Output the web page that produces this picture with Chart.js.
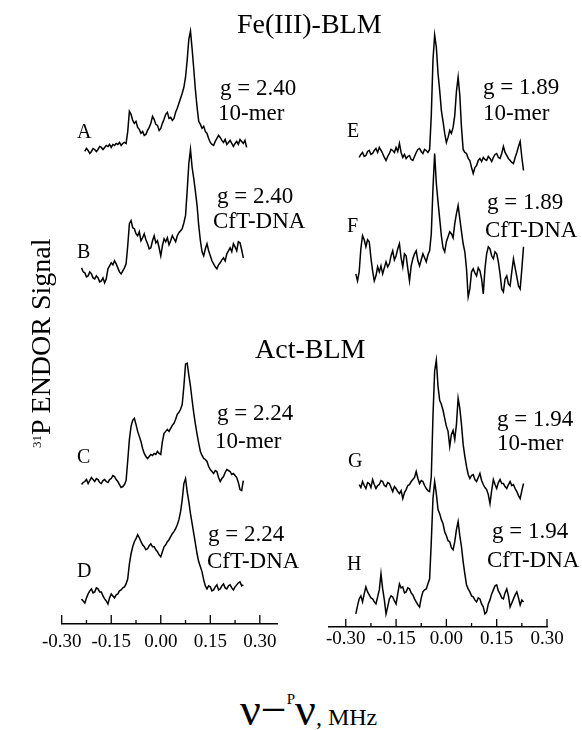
<!DOCTYPE html>
<html>
<head>
<meta charset="utf-8">
<script src="https://cdn.jsdelivr.net/npm/chart.js@4.4.0/dist/chart.umd.min.js"></script>
<style>
  body { margin: 0; background: #fff; }
  #fig { position: relative; width: 582px; height: 730px; overflow: hidden;
         font-family: "Liberation Serif", "Times New Roman", serif; color: #000; }
  .cw { position: absolute; top: 0; }
  .t { position: absolute; white-space: nowrap; line-height: 1; }
</style>
</head>
<body>
<div id="fig">
  <div class="cw" style="left:0;"><canvas id="leftChart" width="300" height="680"></canvas></div>
  <div class="cw" style="left:300px;"><canvas id="rightChart" width="282" height="680"></canvas></div>
</div>
<script>
/* ── Data: 31P ENDOR traces, signal sampled every 0.005 MHz ──────── */
const STEP_MHZ = 0.005;

const MAJOR_TICKS = [-0.30, -0.15, 0.00, 0.15, 0.30];
const MINOR_TICKS = [-0.225, -0.075, 0.075, 0.225];

// Fe(III)-BLM, g = 2.40, 10-mer
const A_START = -0.23;
const A_SIGNAL = [-6, -3, -5, -8, -6, -3, -4, -6, -4, -1,
                  -2, -4, -2, 0, -1, 1, -2, 1, 0, 2,
                  1, 3, 0, 2, 3, 2, 14, 34, 31, 25,
                  22, 24, 18, 16, 12, 14, 10, 11, 15, 18,
                  22, 29, 26, 21, 20, 15, 17, 22, 26, 31,
                  33, 27, 28, 25, 27, 33, 37, 42, 47, 52,
                  58, 68, 85, 106, 114, 96, 76, 55, 38, 24,
                  21, 17, 19, 14, 12, 7, 3, 1, 0, 4,
                  7, 10, 8, 5, 3, 6, 1, 3, 5, 2,
                  -1, 2, 4, 1, 6, 4, 2, 5, -2];
// Fe(III)-BLM, g = 2.40, CfT-DNA
const B_START = -0.24;
const B_SIGNAL = [8, 4, 3, -1, 0, 4, 2, -2, -3, 0,
                  -2, -6, -5, -2, -7, -3, 7, 10, 13, 11,
                  15, 12, 8, 4, 2, 5, 8, 12, 30, 52,
                  55, 48, 47, 42, 40, 44, 35, 38, 42, 36,
                  32, 27, 28, 35, 40, 33, 35, 28, 20, 30,
                  37, 34, 38, 31, 35, 40, 37, 34, 40, 43,
                  45, 47, 53, 60, 85, 112, 126, 108, 97, 84,
                  70, 50, 35, 24, 20, 27, 32, 25, 20, 15,
                  12, 9, 7, 11, 13, 16, 18, 15, 22, 25,
                  28, 24, 32, 29, 25, 34, 33, 26, 18];

// Act-BLM, g = 2.24, 10-mer
const C_START = -0.24;
const C_SIGNAL = [2, 4, 5, 7, 3, 6, 9, 7, 5, 8,
                  7, 4, 3, 6, 7, 5, 4, 7, 8, 11,
                  10, 7, 5, 2, -1, 0, 2, 6, 26, 47,
                  60, 66, 68, 62, 55, 50, 45, 38, 33, 30,
                  28, 30, 32, 31, 33, 32, 35, 33, 32, 45,
                  53, 55, 57, 55, 58, 61, 63, 67, 72, 74,
                  77, 82, 100, 122, 123, 111, 100, 86, 73, 62,
                  52, 43, 35, 31, 28, 27, 25, 20, 17, 15,
                  13, 16, 15, 9, 5, 8, 10, 14, 17, 16,
                  15, 12, 13, 11, 9, 4, -3, -4, 6];
// Act-BLM, g = 2.24, CfT-DNA
const D_START = -0.24;
const D_SIGNAL = [3, 1, -1, 4, 8, 11, 13, 9, 10, 14,
                  13, 10, 10, 6, 3, 1, -2, 4, 8, 6,
                  4, 7, 8, 11, 12, 14, 15, 18, 23, 38,
                  48, 55, 60, 63, 67, 64, 60, 57, 55, 52,
                  53, 56, 58, 55, 55, 52, 50, 47, 45, 50,
                  55, 57, 60, 62, 65, 68, 70, 73, 77, 82,
                  90, 102, 118, 123, 110, 100, 88, 78, 68, 58,
                  48, 40, 35, 30, 22, 16, 13, 16, 15, 11,
                  12, 15, 17, 12, 13, 16, 18, 14, 13, 16,
                  17, 14, 12, 15, 17, 19, 20, 16, 17];

// Fe(III)-BLM, g = 1.89, 10-mer
const E_START = -0.26;
const E_SIGNAL = [-2, 1, 3, -1, 0, 4, 5, 1, 2, 5,
                  7, 3, 8, 5, 2, -2, -5, -1, 2, 6,
                  5, 3, 8, 4, 12, 3, -2, 1, -3, -1,
                  0, -4, -5, -1, 3, 6, 7, 4, 2, 6,
                  5, 3, 6, 40, 95, 120, 108, 82, 65, 45,
                  34, 22, 13, 18, 25, 22, 28, 40, 64, 78,
                  60, 28, 6, 3, 2, -3, -5, -12, -18, -12,
                  -10, -5, -3, -6, -2, -4, -5, -1, -3, -6,
                  -2, 1, 2, -2, -3, 2, 9, 3, 0, -3,
                  -5, -7, -8, -2, 3, 9, 14, -2, -15];
// Fe(III)-BLM, g = 1.89, CfT-DNA
const F_START = -0.27;
const F_SIGNAL = [-10, -17, -8, 15, 28, 24, 17, 24, 22, 6,
                  -7, -17, -12, -3, -8, -2, -10, -4, 2, -3,
                  0, 8, 13, 4, 8, 15, 20, 6, -3, 10,
                  8, -5, -17, -2, 5, 10, 13, 3, -2, 4,
                  10, 6, 2, 9, 13, 30, 75, 110, 80, 62,
                  45, 28, 16, 12, 22, 27, 32, 30, 26, 40,
                  50, 58, 45, 32, 20, 12, -5, -33, -25, -8,
                  -5, -9, -12, -4, -7, -15, -30, -5, 10, 17,
                  15, 8, 5, 12, 10, 2, -10, -25, -28, -15,
                  -12, -20, -22, -8, 5, -4, -13, -22, -25, -5, 17];

// Act-BLM, g = 1.94, 10-mer
const G_START = -0.26;
const G_SIGNAL = [2, -1, 5, 1, -2, 4, 3, -1, 7, 2,
                  -2, 1, 2, 6, 5, 1, 0, 4, 3, -1,
                  -5, 0, -2, -5, -7, -4, -12, -6, -3, 1,
                  2, 5, 7, 9, 15, 8, 3, 6, 5, 1,
                  -2, -4, -5, 10, 70, 115, 126, 100, 86, 82,
                  76, 68, 60, 55, 40, 52, 56, 47, 62, 88,
                  78, 62, 42, 30, 20, 12, 8, 11, 12, 7,
                  5, 9, 13, 6, 2, -1, -3, -8, -17, -4,
                  7, 2, -2, 4, 7, 3, 3, 0, -2, 2,
                  5, 1, 2, -2, -5, -9, -12, -4, 3];
// Act-BLM, g = 1.94, CfT-DNA
const H_START = -0.27;
const H_SIGNAL = [-12, -4, 3, 6, 0, 8, 15, 10, 7, 4,
                  3, 0, -2, 5, 12, 28, 13, 2, -12, -5,
                  3, 6, 5, 1, -2, 8, 18, 14, 15, 9,
                  10, 14, 13, 9, 7, 3, 0, -3, -5, 4,
                  10, 12, 13, 18, 23, 60, 103, 120, 108, 92,
                  88, 82, 78, 70, 66, 61, 60, 54, 52, 60,
                  72, 80, 66, 55, 40, 28, 17, 13, 10, 6,
                  5, 2, 0, 4, 3, -2, -5, -12, -10, -2,
                  2, 8, 12, 16, 17, 11, 8, 4, 3, 9,
                  13, 6, -5, -1, 3, 7, 10, 4, -3, 2, 0];

// ── Layout: vertical offset of each trace above its x axis ─────────
const LEFT_TRACES  = [[A_START, A_SIGNAL, 477], [B_START, B_SIGNAL, 347],
                      [C_START, C_SIGNAL, 137], [D_START, D_SIGNAL, 22]];
const RIGHT_TRACES = [[E_START, E_SIGNAL, 470], [F_START, F_SIGNAL, 362],
                      [G_START, G_SIGNAL, 140], [H_START, H_SIGNAL, 25]];

const SERIF = '"Liberation Serif", "Times New Roman", serif';

// ── Upward tick marks on the frequency axis ───────────────────────
const tickMarks = {
    id: "tickMarks",
    afterDraw(chart, args, opts) {
        const { ctx, chartArea } = chart;
        const sx = chart.scales.x;
        ctx.save();
        ctx.strokeStyle = "#000";
        ctx.lineWidth = 1.3;
        ctx.beginPath();
        MAJOR_TICKS.forEach(v => {
            const px = sx.getPixelForValue(v);
            ctx.moveTo(px, chartArea.bottom);
            ctx.lineTo(px, chartArea.bottom - opts.major);
        });
        MINOR_TICKS.forEach(v => {
            const px = sx.getPixelForValue(v);
            ctx.moveTo(px, chartArea.bottom);
            ctx.lineTo(px, chartArea.bottom - opts.minor);
        });
        ctx.stroke();
        ctx.restore();
    }
};

function makeChart(canvasId, traces, cfg) {
    const datasets = traces.map(([start, signal, offset]) => ({
        data: signal.map((s, i) => ({ x: +(start + i * STEP_MHZ).toFixed(3), y: s + offset })),
        borderColor: "#000",
        borderWidth: 1.5,
        pointRadius: 0,
        fill: false,
        tension: 0
    }));

    return new Chart(document.getElementById(canvasId), {
        type: "line",
        data: { datasets },
        plugins: [tickMarks],
        options: {
            responsive: false,
            animation: false,
            events: [],
            layout: { padding: cfg.padding },
            plugins: {
                legend: { display: false },
                tooltip: { enabled: false },
                tickMarks: { major: cfg.major, minor: 4 }
            },
            scales: {
                x: {
                    type: "linear",
                    min: cfg.min,
                    max: cfg.max,
                    afterBuildTicks: scale => { scale.ticks = MAJOR_TICKS.map(v => ({ value: v })); },
                    ticks: {
                        callback: v => v.toFixed(2),
                        font: { family: SERIF, size: 19 },
                        color: "#000",
                        padding: cfg.tickPad,
                        autoSkip: false,
                        maxRotation: 0
                    },
                    grid: { display: false, drawTicks: false },
                    border: { display: true, color: "#000", width: 1.5 }
                },
                y: { display: false, min: 0, max: cfg.yMax }
            }
        }
    });
}

makeChart("leftChart", LEFT_TRACES, {
    min: -0.30, max: 0.352, major: 9, tickPad: 7, yMax: 612,
    padding: { left: 61.7, right: 23, top: 10, bottom: 19.2 }
});
makeChart("rightChart", RIGHT_TRACES, {
    min: -0.35, max: 0.30, major: 8, tickPad: 1, yMax: 615,
    padding: { left: 29, right: 35, top: 10, bottom: 28.2 }
});

// ── Text: [text, left x, baseline y, font size] ───────────────────
const TEXTS = [
    ["Fe(III)-BLM", 237, 33, 28],
    ["Act-BLM", 255, 358, 28],
    ["A", 77, 138, 20], ["g = 2.40", 220, 95, 23], ["10-mer", 218, 120, 23],
    ["B", 77, 258, 20], ["g = 2.40", 217, 203, 23], ["CfT-DNA", 213, 228, 23],
    ["C", 77, 463, 20], ["g = 2.24", 217, 420, 23], ["10-mer", 215, 448, 23],
    ["D", 77, 577, 20], ["g = 2.24", 208, 541, 23], ["CfT-DNA", 207, 568, 23],
    ["E", 347, 137, 20], ["g = 1.89", 483, 94, 23], ["10-mer", 483, 120, 23],
    ["F", 347, 232, 20], ["g = 1.89", 487, 209, 23], ["CfT-DNA", 485, 237, 23],
    ["G", 348, 467, 20], ["g = 1.94", 497, 426, 23], ["10-mer", 497, 450, 23],
    ["H", 347, 570, 20], ["g = 1.94", 492, 538, 23], ["CfT-DNA", 487, 567, 23]
];

const fig = document.getElementById("fig");
function placeText(html, x, base, size) {
    const d = document.createElement("div");
    d.className = "t";
    d.style.fontSize = size + "px";
    d.style.left = x + "px";
    d.style.top = (base - 0.8375 * size) + "px";
    d.innerHTML = html;
    fig.appendChild(d);
    return d;
}
TEXTS.forEach(([text, x, base, size]) => placeText(text, x, base, size));

// y title, reading bottom to top
const yTitle = placeText('<span style="font-size:13px;position:relative;top:-9px">31</span>P ENDOR Signal', 0, 0, 28);
yTitle.style.left = (50 - 0.8375 * 28) + "px";
yTitle.style.top = "448px";
yTitle.style.transformOrigin = "0 0";
yTitle.style.transform = "rotate(-90deg)";

// x title
placeText('<span style="font-size:46px">ν−</span><span style="font-size:15px;position:relative;top:-21px">P</span>' +
          '<span style="font-size:46px">ν</span><span style="font-size:24px">, MHz</span>', 240, 707, 24);
</script>
</body>
</html>
